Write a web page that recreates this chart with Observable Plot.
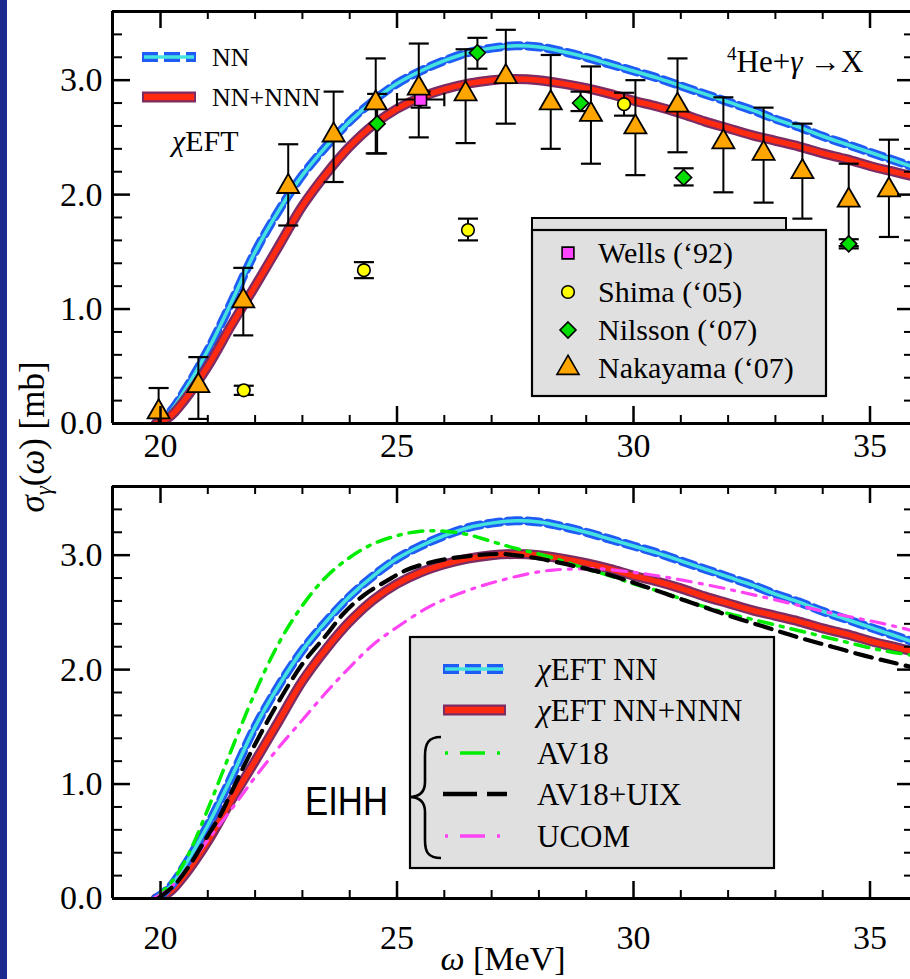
<!DOCTYPE html>
<html><head><meta charset="utf-8">
<script src="https://cdn.jsdelivr.net/npm/d3@7"></script>
<script src="https://cdn.jsdelivr.net/npm/@observablehq/plot@0.6"></script>
<style>
html,body{margin:0;padding:0;background:#fff;}
#page{position:relative;width:910px;height:979px;overflow:hidden;background:#fff;font-family:"Liberation Serif",serif;}
#top,#bottom,#overlay{position:absolute;left:0;}
#top{top:0px} #bottom{top:460px} #overlay{top:0px}
#edge{position:absolute;left:0;top:0;width:7px;height:979px;background:#1b2a8e;}
</style></head><body>
<div id="page"><div id="top"></div><div id="bottom"></div><svg id="overlay" width="910" height="979" style="font-family:'Liberation Serif',serif"></svg><div id="edge"></div></div>
<script>
// ---------- data (omega [MeV], sigma [mb]) ----------
const nnCurve = [[19.9,0],[20.2,0.1],[20.5,0.28],[21.0,0.64],[21.5,1.06],[22.0,1.5],[22.5,1.86],[23.0,2.17],[23.5,2.42],[24.0,2.64],[24.5,2.82],[25.0,2.97],[25.5,3.08],[26.0,3.17],[26.5,3.24],[27.0,3.28],[27.5,3.3],[28.0,3.29],[28.5,3.25],[29.0,3.2],[29.5,3.14],[30.0,3.08],[30.5,3.02],[31.0,2.95],[31.5,2.88],[32.0,2.81],[32.5,2.74],[33.0,2.66],[33.5,2.59],[34.0,2.51],[34.5,2.44],[35.0,2.37],[35.5,2.3],[36.0,2.23]];
const nnnCurve = [[19.9,0],[20.2,0.06],[20.5,0.2],[21.0,0.5],[21.5,0.86],[22.0,1.2],[22.5,1.55],[23.0,1.9],[23.5,2.18],[24.0,2.42],[24.5,2.61],[25.0,2.75],[25.5,2.85],[26.0,2.92],[26.5,2.97],[27.0,3.0],[27.5,3.01],[28.0,3.0],[28.5,2.97],[29.0,2.93],[29.5,2.88],[30.0,2.82],[30.5,2.77],[31.0,2.71],[31.5,2.64],[32.0,2.58],[32.5,2.52],[33.0,2.47],[33.5,2.42],[34.0,2.36],[34.5,2.31],[35.0,2.25],[35.5,2.2],[36.0,2.15]];
const av18Curve = [[19.9,0],[20.3,0.18],[20.63,0.42],[21.0,0.78],[21.27,1.06],[21.5,1.3],[22.0,1.8],[22.5,2.23],[23.0,2.56],[23.5,2.81],[24.0,2.98],[24.5,3.1],[25.0,3.17],[25.5,3.21],[26.0,3.21],[26.5,3.18],[27.0,3.12],[27.5,3.06],[28.0,3.01],[28.5,2.95],[29.0,2.88],[29.5,2.82],[30.0,2.75],[30.5,2.69],[31.0,2.62],[31.5,2.55],[32.0,2.49],[32.5,2.44],[33.0,2.39],[33.5,2.34],[34.0,2.29],[34.5,2.24],[35.0,2.19],[35.5,2.15],[36.0,2.12]];
const av18uixCurve = [[19.95,0],[20.3,0.12],[20.63,0.3],[21.0,0.55],[21.27,0.73],[21.5,0.93],[21.9,1.27],[22.47,1.7],[23.0,2.05],[23.5,2.3],[23.87,2.49],[24.3,2.65],[24.8,2.78],[25.2,2.87],[25.64,2.93],[26.1,2.97],[26.7,3.0],[27.2,3.01],[27.7,2.99],[28.25,2.95],[28.8,2.9],[29.3,2.85],[30.0,2.76],[30.7,2.66],[31.4,2.56],[32.1,2.46],[32.8,2.37],[33.5,2.28],[34.2,2.2],[34.9,2.12],[35.5,2.06],[36.0,2.01]];
const ucomCurve = [[19.85,0],[20.2,0.09],[20.57,0.27],[21.0,0.51],[21.5,0.78],[22.0,1.06],[22.5,1.32],[23.0,1.56],[23.5,1.8],[24.0,2.02],[24.5,2.22],[25.0,2.37],[25.6,2.53],[26.1,2.63],[26.7,2.72],[27.2,2.78],[27.8,2.84],[28.3,2.87],[28.8,2.88],[29.3,2.88],[30.0,2.85],[30.5,2.82],[31.06,2.78],[31.8,2.72],[32.47,2.66],[33.2,2.59],[33.9,2.52],[34.6,2.46],[35.3,2.4],[36.0,2.33]];
// points: [omega, sigma, low, high] (Wells also x-range)
const wells = [[25.5,2.83,2.76,2.90,25.0,26.0]];
const shima = [[21.76,0.29,0.25,0.33],[24.3,1.34,1.27,1.41],[26.5,1.69,1.6,1.79],[29.8,2.79,2.69,2.89]];
const nilsson = [[24.58,2.62,2.36,2.88],[26.7,3.24,3.1,3.37],[28.88,2.8,2.73,2.9],[31.06,2.15,2.08,2.23],[34.55,1.57,1.53,1.61]];
const nakayama = [[19.96,0.1,-0.12,0.31],[20.8,0.33,0.04,0.58],[21.75,1.07,0.77,1.36],[22.7,2.07,1.73,2.44],[23.66,2.52,2.11,2.9],[24.55,2.8,2.36,3.19],[25.46,2.93,2.5,3.32],[26.45,2.88,2.45,3.27],[27.3,3.03,2.62,3.44],[28.25,2.8,2.4,3.22],[29.1,2.7,2.27,3.12],[30.04,2.59,2.17,3.0],[30.93,2.78,2.37,3.19],[31.9,2.46,2.02,2.85],[32.75,2.36,1.93,2.76],[33.57,2.2,1.79,2.62],[34.55,1.95,1.55,2.27],[35.4,2.04,1.63,2.48]];
// legend names
const pointSeries = ["Wells (‘92)","Shima (‘05)","Nilsson (‘07)","Nakayama (‘07)"];
const lineSeries = ["EFT NN","EFT NN+NNN","AV18","AV18+UIX","UCOM"];
// ticks
const xMajor = [20,25,30,35];
const xMinor = [21,22,23,24,26,27,28,29,31,32,33,34];
const yMajor = [0,1,2,3];
const yMinor = [0.2,0.4,0.6,0.8,1.2,1.4,1.6,1.8,2.2,2.4,2.6,2.8,3.2,3.4];
const xLabels = ["20","25","30","35"];
const yLabels = ["0.0","1.0","2.0","3.0"];

// ---------- styles ----------
const SERIF="'Liberation Serif',serif";
const BLUE="#1f5cf6", CYAN="#45e3e0", PURPLE="#7d2b63", RED="#ff2a10", GREEN="#00ec00", MAGENTA="#ff44f4", ORANGE="#ffa500", YELLOW="#ffff00", NGREEN="#00dd00", PINK="#ff44ff";
const X_DOMAIN=[18.985,35.856], Y_DOMAIN=[0,3.6];
const FW=910-112, FH=412;
const capH = {draw(ctx,size){const w=Math.sqrt(size);ctx.moveTo(-w/2,0);ctx.lineTo(w/2,0);}};
const capV = {draw(ctx,size){const w=Math.sqrt(size);ctx.moveTo(0,-w/2);ctx.lineTo(0,w/2);}};
const X=d=>d[0], Y=d=>d[1];

function frameMarks(pad){
  return [
    Plot.tickX(xMinor,{x:d=>d,insetTop:FH-8,strokeWidth:2}),
    Plot.tickX(xMajor,{x:d=>d,insetTop:FH-17,strokeWidth:2.5}),
    Plot.tickX(xMinor,{x:d=>d,insetBottom:FH-8,strokeWidth:2}),
    Plot.tickX(xMajor,{x:d=>d,insetBottom:FH-17,strokeWidth:2.5}),
    Plot.tickY(yMinor,{y:d=>d,insetRight:FW-10,strokeWidth:2}),
    Plot.tickY(yMajor,{y:d=>d,insetRight:FW-18,strokeWidth:2.5}),
    Plot.tickY(yMinor,{y:d=>d,insetLeft:FW-6,strokeWidth:2}),
    Plot.tickY(yMajor,{y:d=>d,insetLeft:FW-13,strokeWidth:2.5}),
    Plot.ruleX([X_DOMAIN[0]],{strokeWidth:3}),
    Plot.ruleY([Y_DOMAIN[0],Y_DOMAIN[1]],{strokeWidth:3}),
    Plot.axisX({ticks:xMajor,tickSize:0,tickPadding:pad,fontSize:34,fontFamily:SERIF,label:null,tickFormat:(d)=>xLabels[xMajor.indexOf(d)]}),
    Plot.axisY({ticks:yMajor,tickSize:0,tickPadding:10,fontSize:34,fontFamily:SERIF,label:null,tickFormat:(d)=>yLabels[yMajor.indexOf(d)]})
  ];
}
function nnMarks(){return [
  Plot.line(nnCurve,{x:X,y:Y,stroke:BLUE,strokeWidth:9,strokeDasharray:"13,7",curve:"catmull-rom",clip:true}),
  Plot.line(nnCurve,{x:X,y:Y,stroke:CYAN,strokeWidth:3.5,curve:"catmull-rom",clip:true})];}
function nnnMarks(){return [
  Plot.line(nnnCurve,{x:X,y:Y,stroke:PURPLE,strokeWidth:10,curve:"catmull-rom",clip:true}),
  Plot.line(nnnCurve,{x:X,y:Y,stroke:RED,strokeWidth:5.5,curve:"catmull-rom",clip:true})];}
function errMarks(data){return [
  Plot.ruleX(data,{x:X,y1:d=>d[2],y2:d=>d[3],stroke:"black",strokeWidth:2,clip:true}),
  Plot.dot(data,{x:X,y:d=>d[2],symbol:capH,r:11.3,stroke:"black",strokeWidth:2.2,fill:"none",clip:true}),
  Plot.dot(data,{x:X,y:d=>d[3],symbol:capH,r:11.3,stroke:"black",strokeWidth:2.2,fill:"none",clip:true})];}

const topPlot = Plot.plot({
  width:910,height:480,marginLeft:112,marginRight:0,marginTop:11,marginBottom:57,
  x:{domain:X_DOMAIN},y:{domain:Y_DOMAIN},
  style:{fontFamily:SERIF,background:"transparent",color:"black",overflow:"visible"},
  marks:[
    ...nnMarks(),...nnnMarks(),
    ...errMarks(nakayama),...errMarks(shima),...errMarks(nilsson),...errMarks(wells),
    Plot.ruleY(wells,{y:Y,x1:d=>d[4],x2:d=>d[5],stroke:"black",strokeWidth:2}),
    Plot.dot(wells,{x:d=>d[4],y:Y,symbol:capV,r:7.5,stroke:"black",strokeWidth:2.2}),
    Plot.dot(wells,{x:d=>d[5],y:Y,symbol:capV,r:7.5,stroke:"black",strokeWidth:2.2}),
    Plot.dot(wells,{x:X,y:Y,symbol:"square",r:6.6,fill:PINK,stroke:"black",strokeWidth:1.6}),
    Plot.dot(shima,{x:X,y:Y,r:6.3,fill:YELLOW,stroke:"black",strokeWidth:1.6}),
    Plot.dot(nilsson,{x:X,y:Y,symbol:"diamond2",r:7.2,fill:NGREEN,stroke:"black",strokeWidth:1.6}),
    Plot.dot(nakayama,{x:X,y:Y,symbol:"triangle",r:8.2,fill:ORANGE,stroke:"black",strokeWidth:1.8}),
    ...frameMarks(9)
  ]
});
document.getElementById("top").appendChild(topPlot);

const bottomPlot = Plot.plot({
  width:910,height:519,marginLeft:112,marginRight:0,marginTop:26,marginBottom:81,
  x:{domain:X_DOMAIN},y:{domain:Y_DOMAIN},
  style:{fontFamily:SERIF,background:"transparent",color:"black",overflow:"visible"},
  marks:[
    ...nnnMarks(),
    ...nnMarks(),
    Plot.line(av18Curve,{x:X,y:Y,stroke:GREEN,strokeWidth:3.5,strokeDasharray:"14,8,3,8",curve:"catmull-rom",clip:true}),
    Plot.line(ucomCurve,{x:X,y:Y,stroke:MAGENTA,strokeWidth:3.2,strokeDasharray:"14,8,3,8",curve:"catmull-rom",clip:true}),
    Plot.line(av18uixCurve,{x:X,y:Y,stroke:"black",strokeWidth:4.2,strokeDasharray:"17,9",curve:"catmull-rom",clip:true}),
    ...frameMarks(26)
  ]
});
document.getElementById("bottom").appendChild(bottomPlot);

// ---------- overlay: legends and labels ----------
const ov = d3.select("#overlay");
function swNN(g,x1,x2,y,w){
  g.append("line").attr("x1",x1).attr("x2",x2).attr("y1",y).attr("y2",y).attr("stroke",BLUE).attr("stroke-width",w).attr("stroke-dasharray","16,6");
  g.append("line").attr("x1",x1+2).attr("x2",x2-2).attr("y1",y).attr("y2",y).attr("stroke",CYAN).attr("stroke-width",3.5);
}
function swNNN(g,x1,x2,y,w){
  g.append("line").attr("x1",x1).attr("x2",x2).attr("y1",y).attr("y2",y).attr("stroke",PURPLE).attr("stroke-width",w);
  g.append("line").attr("x1",x1+2).attr("x2",x2-2).attr("y1",y).attr("y2",y).attr("stroke",RED).attr("stroke-width",w-4.5);
}
function txt(g,x,y,size,parts,anchor){
  const t=g.append("text").attr("x",x).attr("y",y).attr("font-size",size).attr("fill","black");
  if(anchor) t.attr("text-anchor",anchor);
  for(const p of parts){
    const s=t.append("tspan").text(p.t);
    if(p.i) s.attr("font-style","italic");
    if(p.fs) s.attr("font-size",p.fs);
    if(p.dy) s.attr("dy",p.dy);
  }
  return t;
}
// top-left legend
swNN(ov,142,196,57,10);
swNNN(ov,142,196,97,11);
txt(ov,212,66,26,[{t:"NN"}]);
txt(ov,212,106,26,[{t:"NN+NNN"}]);
txt(ov,172,151,30,[{t:"χ",i:1},{t:"EFT"}]);
// reaction
txt(ov,727,72,31,[{t:"4",fs:19,dy:-12},{t:"He+",dy:12},{t:"γ",i:1},{t:" →X"}]);
// top-right legend box
ov.append("rect").attr("x",532).attr("y",218).attr("width",254).attr("height",14).attr("fill","#e0e0e0").attr("stroke","black").attr("stroke-width",2);
ov.append("rect").attr("x",532).attr("y",230).attr("width",294).attr("height",166).attr("fill","#e0e0e0").attr("stroke","black").attr("stroke-width",2.2);
const legSym=[{sym:d3.symbolSquare,size:140,fill:PINK},{sym:d3.symbolCircle,size:125,fill:YELLOW},{sym:d3.symbolDiamond2,size:163,fill:NGREEN},{sym:d3.symbolTriangle,size:211,fill:ORANGE}];
const legY=[253,292,330,368];
pointSeries.forEach((s,i)=>{
  const r=legSym[i];
  ov.append("path").attr("d",d3.symbol(r.sym,r.size)()).attr("transform",`translate(568,${legY[i]})`).attr("fill",r.fill).attr("stroke","black").attr("stroke-width",1.6);
  txt(ov,598,legY[i]+10,30,[{t:s}]);
});
// bottom legend
ov.append("rect").attr("x",410).attr("y",637).attr("width",364).attr("height",231).attr("fill","#e0e0e0").attr("stroke","black").attr("stroke-width",2.2);
const bY=[669,710,753,794,836];
swNN(ov,443,506,bY[0],10);
swNNN(ov,443,506,bY[1],11);
ov.append("line").attr("x1",445).attr("x2",507).attr("y1",bY[2]).attr("y2",bY[2]).attr("stroke",GREEN).attr("stroke-width",3.5).attr("stroke-dasharray","3,12,25,12");
ov.append("line").attr("x1",443).attr("x2",507).attr("y1",bY[3]).attr("y2",bY[3]).attr("stroke","black").attr("stroke-width",4.5).attr("stroke-dasharray","34,10");
ov.append("line").attr("x1",445).attr("x2",507).attr("y1",bY[4]).attr("y2",bY[4]).attr("stroke",MAGENTA).attr("stroke-width",3.5).attr("stroke-dasharray","3,12,25,12");
txt(ov,537,bY[0]+11,31,[{t:"χ",i:1},{t:lineSeries[0]}]);
txt(ov,537,bY[1]+11,31,[{t:"χ",i:1},{t:lineSeries[1]}]);
txt(ov,537,bY[2]+11,31,[{t:lineSeries[2]}]);
txt(ov,537,bY[3]+11,31,[{t:lineSeries[3]}]);
txt(ov,537,bY[4]+11,31,[{t:lineSeries[4]}]);
// brace
ov.append("path").attr("d","M441,737 C428,737 425,744 425,756 L425,782 C425,792 420,797 409,797 C420,797 425,802 425,812 L425,840 C425,852 428,858 441,858").attr("fill","none").attr("stroke","black").attr("stroke-width",2.6);
ov.append("text").attr("x",305).attr("y",815).attr("font-family","'Liberation Sans',sans-serif").attr("font-size",41).attr("textLength",83).attr("lengthAdjust","spacingAndGlyphs").text("EIHH");
// axis titles
txt(ov,0,0,35,[{t:"σ",i:1},{t:"γ",i:1,fs:23,dy:7},{t:"(",dy:-7},{t:"ω",i:1},{t:") [mb]"}],"middle").attr("transform","translate(44,437) rotate(-90)");
txt(ov,503,970,34,[{t:"ω",i:1},{t:" [MeV]"}],"middle");
</script></body></html>
